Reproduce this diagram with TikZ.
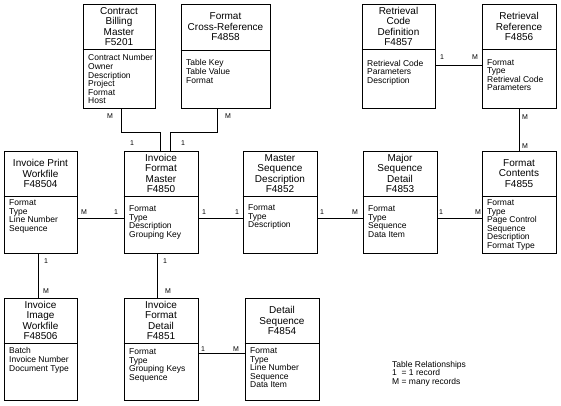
\documentclass[tikz,border=0pt]{standalone}
\usepackage{fontspec}
\setmainfont{Liberation Sans}
\tikzset{
 tbox/.style={draw, line width=0.8pt, rectangle, inner sep=0pt},
 ttl/.style={align=center, font=\fontsize{10}{10.5}\selectfont, inner sep=0pt},
 fld/.style={align=left, font=\fontsize{8.5}{8.6}\selectfont, inner sep=0pt, anchor=north west},
 lbl/.style={font=\fontsize{7}{8}\selectfont, inner sep=0pt},
 conn/.style={line width=0.8pt},
}
\newcommand\tbl[9]{%
 \node[tbox, minimum width={#4-#2}, minimum height={#5-#3}] (#1) at ({(#2+#4)/2},{(#3+#5)/2}) {};
 \draw[conn] (#1.west |- 0,#6) -- (#1.east |- 0,#6);
 \node[ttl] (#1-t) at ({(#2+#4)/2},{(#3+#6)/2}) {#7};
 \node[fld] (#1-f) at ({#2+5},{#6+#8}) {#9};
}
\newcommand\legcell[1]{\makebox[\fontcharwd\font`\M][l]{#1}}
\begin{document}
\begin{tikzpicture}[x=1pt,y=-1pt]
\useasboundingbox[fill=white] (0,0) rectangle (561,406);
\tbl{cbm}{83}{4}{155}{108}{49}{Contract\\Billing\\Master\\F5201}{5.5}{Contract Number\\Owner\\Description\\Project\\Format\\Host}
\tbl{fcr}{181}{4}{270}{108}{50}{Format\\Cross-Reference\\F4858}{9.5}{Table Key\\Table Value\\Format}
\tbl{rcd}{362}{4}{435}{108}{49}{Retrieval\\Code\\Definition\\F4857}{11}{Retrieval Code\\Parameters\\Description}
\tbl{rr}{482}{4}{556}{108}{49}{Retrieval\\Reference\\F4856}{10}{Format\\Type\\Retrieval Code\\Parameters}
\tbl{ipw}{4}{151}{77}{253}{196}{Invoice Print\\Workfile\\F48504}{3.5}{Format\\Type\\Line Number\\Sequence}
\tbl{ifm}{124}{151}{198}{253}{196}{Invoice\\Format\\Master\\F4850}{9.5}{Format\\Type\\Description\\Grouping Key}
\tbl{msd}{243}{151}{317}{253}{196}{Master\\Sequence\\Description\\F4852}{8.5}{Format\\Type\\Description}
\tbl{msq}{363}{151}{437}{253}{196}{Major\\Sequence\\Detail\\F4853}{9.5}{Format\\Type\\Sequence\\Data Item}
\tbl{fc}{482}{151}{556}{253}{196}{Format\\Contents\\F4855}{3.5}{Format\\Type\\Page Control\\Sequence\\Description\\Format Type}
\tbl{iiw}{4}{298}{77}{400}{343}{Invoice\\Image\\Workfile\\F48506}{4.5}{Batch\\Invoice Number\\Document Type}
\tbl{ifd}{124}{298}{198}{400}{343}{Invoice\\Format\\Detail\\F4851}{5.5}{Format\\Type\\Grouping Keys\\Sequence}
\tbl{ds}{245}{298}{319}{400}{343}{Detail\\Sequence\\F4854}{4.5}{Format\\Type\\Line Number\\Sequence\\Data Item}
% connectors
\draw[conn] (cbm.south -| 121,0) |- (0,132 -| 160,0) -- (ifm.north -| 160,0);
\draw[conn] (fcr.south -| 217,0) |- (0,132 -| 170,0) -- (ifm.north -| 170,0);
\draw[conn] (rcd.east |- 0,65) -- (rr.west |- 0,65);
\draw[conn] (rr.south -| 519,0) -- (fc.north -| 519,0);
\draw[conn] (ipw.east |- 0,218) -- (ifm.west |- 0,218);
\draw[conn] (ifm.east |- 0,218) -- (msd.west |- 0,218);
\draw[conn] (msd.east |- 0,218) -- (msq.west |- 0,218);
\draw[conn] (msq.east |- 0,218) -- (fc.west |- 0,218);
\draw[conn] (ipw.south -| 38,0) -- (iiw.north -| 38,0);
\draw[conn] (ifm.south -| 157,0) -- (ifd.north -| 157,0);
\draw[conn] (ifd.east |- 0,353) -- (ds.west |- 0,353);
% cardinality labels
\node[lbl] (l1) at (110,116) {M};
\node[lbl] (l2) at (228,116) {M};
\node[lbl] (l3) at (132,143) {1};
\node[lbl] (l4) at (183,143) {1};
\node[lbl] (l5) at (442,57) {1};
\node[lbl] (l6) at (475,57) {M};
\node[lbl] (l7) at (525,117) {M};
\node[lbl] (l8) at (525,146) {M};
\node[lbl] (l9) at (84,212) {M};
\node[lbl] (l10) at (116,212) {1};
\node[lbl] (l11) at (204,212) {1};
\node[lbl] (l12) at (237,212) {1};
\node[lbl] (l13) at (322,212) {1};
\node[lbl] (l14) at (355,212) {M};
\node[lbl] (l15) at (441,212) {1};
\node[lbl] (l16) at (478,212) {M};
\node[lbl] (l17) at (46,261) {1};
\node[lbl] (l18) at (46,291) {M};
\node[lbl] (l19) at (165,261) {1};
\node[lbl] (l20) at (168,291) {M};
\node[lbl] (l21) at (203,349) {1};
\node[lbl] (l22) at (236,349) {M};
% legend
\node[fld] (leg) at (392,361) {Table Relationships\\
\legcell{1} = 1 record\\
\legcell{M} = many records};
\end{tikzpicture}
\end{document}
